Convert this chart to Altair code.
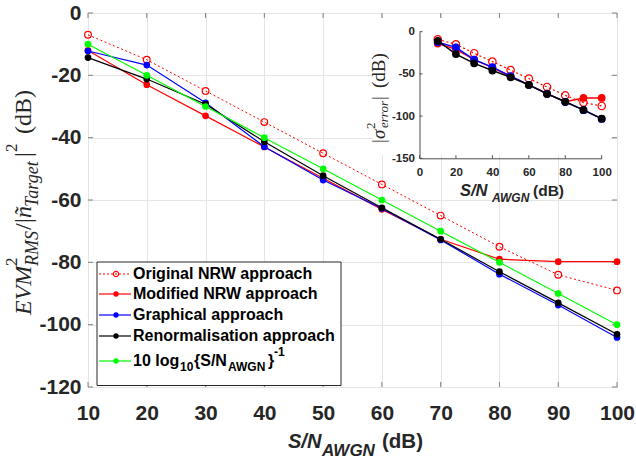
import altair as alt
import pandas as pd

# ---------------- data ----------------
snr = [10, 20, 30, 40, 50, 60, 70, 80, 90, 100]
original_nrw = [-7, -15, -25, -35, -45, -55, -65, -75, -84, -89]
modified_nrw = [-12, -23, -33, -43, -53, -63, -72.6, -79, -79.8, -79.8]
graphical = [-12.2, -16.7, -28.8, -42.9, -53.6, -62.7, -72.8, -83.8, -93.7, -104.1]
renormalisation = [-14.3, -21.2, -29.3, -41.3, -52.2, -62.5, -72.6, -83, -93, -103.1]
theory = [-10, -20, -30, -40, -50, -60, -70, -80, -90, -100]

inset_original = [-9, -15, -25.5, -35.5, -45.5, -55.5, -65.5, -75.5, -84, -88]
inset_modified = [-14, -21, -33, -42.5, -53, -63, -73.5, -83, -78.5, -78.5]
inset_graphical = [-12.5, -18.5, -33, -42, -52.5, -63, -73.5, -83.2, -93, -103.3]
inset_renormalisation = [-11, -26.5, -37.5, -46, -54, -63.1, -73.8, -83, -92.7, -103]

legend_labels = ["Original NRW approach", "Modified NRW approach",
                 "Graphical approach", "Renormalisation approach"]
x_ticks = [10, 20, 30, 40, 50, 60, 70, 80, 90, 100]
y_ticks = [0, -20, -40, -60, -80, -100, -120]
inset_x_ticks = [0, 20, 40, 60, 80, 100]
inset_y_ticks = [0, -50, -100, -150]

# ---------------- styles ----------------
RED, BLUE, BLACK, GREEN = "#ff0000", "#0000ff", "#000000", "#00ff00"
SANS, SERIF = "Liberation Sans", "Liberation Serif"
LBL = "#262626"
FRAME = "#808080"
GRID = "#e4e4e4"
W, H = 529, 374
NEG = "datum.value < 0 ? '-' + abs(datum.value) : '' + datum.value"

DUMMY = alt.Data(values=[{"a": 1}])


def frame(xv, yv):
    return pd.DataFrame({"x": xv, "y": yv})


def txt(s, x, y, size, font=SANS, weight="normal", style="normal", angle=0,
        align="left", baseline="alphabetic", color=LBL):
    kw = dict(text=s, font=font, fontSize=size, fontWeight=weight, fontStyle=style,
              align=align, baseline=baseline, color=color)
    if angle:
        kw["angle"] = angle
    return alt.Chart(DUMMY).mark_text(**kw).encode(x=alt.value(x), y=alt.value(y))


# ---------------- main scales / axes ----------------
xs = alt.Scale(domain=[10, 100], nice=False, zero=False)
ys = alt.Scale(domain=[-120, 0], nice=False, zero=False)
ax_x = alt.Axis(values=x_ticks, grid=True, gridColor=GRID, gridWidth=1, ticks=False,
                domain=False, labelFont=SANS, labelFontWeight="bold", labelFontSize=21,
                labelColor=LBL, labelPadding=15, labelFlush=False, labelOverlap=False,
                labelBound=False, title=None)
ax_y = alt.Axis(values=y_ticks, grid=True, gridColor=GRID, gridWidth=1, ticks=False,
                domain=False, labelFont=SANS, labelFontWeight="bold", labelFontSize=21,
                labelColor=LBL, labelPadding=7, labelFlush=False, labelOverlap=False,
                labelBound=False, labelExpr=NEG, title=None)
X = alt.X("x:Q", scale=xs, axis=ax_x)
Y = alt.Y("y:Q", scale=ys, axis=ax_y)


def series(d, color, Xe, Ye, dash=None, hollow=False, size=45, sw=1.2):
    lk = dict(color=color, strokeWidth=sw)
    if dash:
        lk["strokeDash"] = dash
    out = [alt.Chart(d).mark_line(**lk).encode(x=Xe, y=Ye)]
    if hollow:
        out.append(alt.Chart(d).mark_point(shape="circle", filled=False, color=color,
                                           size=size, strokeWidth=1.2, opacity=1)
                   .encode(x=Xe, y=Ye))
    else:
        out.append(alt.Chart(d).mark_circle(color=color, size=size, opacity=1)
                   .encode(x=Xe, y=Ye))
    return out


main_layers = []
xt = pd.DataFrame({"x": x_ticks})
yt = pd.DataFrame({"y": y_ticks})
# white background of inset
main_layers.append(alt.Chart(DUMMY).mark_rect(color="white").encode(
    x=alt.value(285), x2=alt.value(522), y=alt.value(5), y2=alt.value(142)))
# inward ticks on all four sides
main_layers.append(alt.Chart(xt).mark_rule(color=FRAME).encode(x=X, y=alt.value(H), y2=alt.value(H - 5)))
main_layers.append(alt.Chart(xt).mark_rule(color=FRAME).encode(x=X, y=alt.value(0), y2=alt.value(5)))
main_layers.append(alt.Chart(yt).mark_rule(color=FRAME).encode(y=Y, x=alt.value(0), x2=alt.value(5)))
main_layers.append(alt.Chart(yt).mark_rule(color=FRAME).encode(y=Y, x=alt.value(W), x2=alt.value(W - 5)))

main_layers += series(frame(snr, original_nrw), RED, X, Y, dash=[2, 2.5], hollow=True, sw=1)
main_layers += series(frame(snr, modified_nrw), RED, X, Y)
main_layers += series(frame(snr, graphical), BLUE, X, Y)
main_layers += series(frame(snr, renormalisation), BLACK, X, Y)
main_layers += series(frame(snr, theory), GREEN, X, Y)

# ---------------- legend ----------------
main_layers.append(alt.Chart(DUMMY).mark_rect(fill="white", stroke="#262626", strokeWidth=1).encode(
    x=alt.value(9), x2=alt.value(253), y=alt.value(249), y2=alt.value(372.5)))
rows = [261, 281, 302, 323, 348]
leg_colors = [RED, RED, BLUE, BLACK, GREEN]
for i, (ry, c) in enumerate(zip(rows, leg_colors)):
    rk = dict(color=c, strokeWidth=1.2)
    if i == 0:
        rk["strokeDash"] = [2, 2]
    main_layers.append(alt.Chart(DUMMY).mark_rule(**rk).encode(
        x=alt.value(11), x2=alt.value(43), y=alt.value(ry)))
    if i == 0:
        main_layers.append(alt.Chart(DUMMY).mark_point(shape="circle", filled=False, color=c,
                                                       size=28, strokeWidth=1.2, opacity=1)
                           .encode(x=alt.value(28), y=alt.value(ry)))
    else:
        main_layers.append(alt.Chart(DUMMY).mark_circle(color=c, size=28, opacity=1)
                           .encode(x=alt.value(28), y=alt.value(ry)))
    if i < 4:
        main_layers.append(txt(legend_labels[i], 45, ry, 16, weight="bold", baseline="middle",
                               color="#000000"))
ry = rows[4]
main_layers.append(txt("10 log", 45, ry, 16, weight="bold", baseline="middle", color="#000000"))
main_layers.append(txt("10", 92, ry + 6, 12, weight="bold", baseline="middle", color="#000000"))
main_layers.append(txt("{S/N", 106, ry, 16, weight="bold", baseline="middle", color="#000000"))
main_layers.append(txt("AWGN", 140, ry + 6, 12, weight="bold", baseline="middle", color="#000000"))
main_layers.append(txt("}", 180, ry, 16, weight="bold", baseline="middle", color="#000000"))
main_layers.append(txt("-1", 186, ry - 9, 12, weight="bold", baseline="middle", color="#000000"))

# ---------------- main axis titles ----------------
main_layers.append(txt("S/N", 200, 435, 20, weight="bold", style="italic"))
main_layers.append(txt("AWGN", 234, 443, 17, weight="bold", style="italic"))
main_layers.append(txt("(dB)", 294, 435, 20.5, weight="bold"))

YB = -57
main_layers.append(txt("EVM", YB, 302, 24, font=SERIF, style="italic", angle=270))
main_layers.append(txt("RMS", YB + 7, 253, 18, font=SERIF, style="italic", angle=270))
main_layers.append(txt("2", YB - 14, 253, 17, font=SERIF, angle=270))
main_layers.append(txt("/", YB, 217, 24, font=SERIF, angle=270))
main_layers.append(txt("|", YB, 210, 24, font=SERIF, angle=270))
main_layers.append(txt("ñ", YB, 205, 24, font=SERIF, style="italic", angle=270))
main_layers.append(txt("Target", YB + 7, 194, 18, font=SERIF, style="italic", angle=270))
main_layers.append(txt("|", YB, 144, 24, font=SERIF, angle=270))
main_layers.append(txt("2", YB - 14, 139, 17, font=SERIF, angle=270))
main_layers.append(txt("(dB)", YB, 121, 24, font=SERIF, angle=270))

# inset axis titles (drawn in main pixel space)
main_layers.append(txt("S/N", 372, 183, 16.5, weight="bold", style="italic"))
main_layers.append(txt("AWGN", 404, 189, 12, weight="bold", style="italic"))
main_layers.append(txt("(dB)", 445, 183, 15.5, weight="bold"))

IB = 297
main_layers.append(txt("|", IB, 130, 19, font=SERIF, angle=270))
main_layers.append(txt("σ", IB, 126, 19, font=SERIF, style="italic", angle=270))
main_layers.append(txt("2", IB - 10, 116, 13, font=SERIF, angle=270))
main_layers.append(txt("error", IB + 3, 115, 13, font=SERIF, style="italic", angle=270))
main_layers.append(txt("|", IB, 87, 19, font=SERIF, angle=270))
main_layers.append(txt("(dB)", IB, 75, 19, font=SERIF, angle=270))

main = alt.layer(*main_layers)

# ---------------- inset ----------------
xi = alt.Scale(domain=[0, 100], range=[331.5, 513.7], nice=False, zero=False)
yi = alt.Scale(domain=[-150, 0], range=[145.3, 18.7], nice=False, zero=False)
IAX = "#4d4d4d"
ax_xi = alt.Axis(values=inset_x_ticks, orient="bottom", offset=-228.7, grid=False, ticks=False,
                 domain=True, domainColor=IAX, domainWidth=1, labelFont=SANS,
                 labelFontWeight="bold", labelFontSize=11.5, labelColor=LBL, labelPadding=8,
                 labelFlush=False, labelOverlap=False, labelBound=False, zindex=1, title=None)
ax_yi = alt.Axis(values=inset_y_ticks, orient="left", offset=-331.5, grid=False, ticks=False,
                 domain=True, domainColor=IAX, domainWidth=1, labelFont=SANS,
                 labelFontWeight="bold", labelFontSize=11.5, labelColor=LBL, labelPadding=5,
                 labelFlush=False, labelOverlap=False, labelBound=False, labelExpr=NEG,
                 zindex=1, title=None)
XI = alt.X("x:Q", scale=xi, axis=ax_xi)
YI = alt.Y("y:Q", scale=yi, axis=ax_yi)

inset_layers = []
ixt = pd.DataFrame({"x": inset_x_ticks})
iyt = pd.DataFrame({"y": inset_y_ticks})
inset_layers.append(alt.Chart(ixt).mark_rule(color=IAX).encode(x=XI, y=alt.value(145.3), y2=alt.value(142.3)))
inset_layers.append(alt.Chart(iyt).mark_rule(color=IAX).encode(y=YI, x=alt.value(331.5), x2=alt.value(334.5)))
inset_layers += series(frame(snr, inset_original), RED, XI, YI, dash=[2, 2.5], hollow=True, size=55, sw=1.2)
inset_layers += series(frame(snr, inset_modified), RED, XI, YI, size=60, sw=1.4)
inset_layers += series(frame(snr, inset_graphical), BLUE, XI, YI, size=60, sw=1.4)
inset_layers += series(frame(snr, inset_renormalisation), BLACK, XI, YI, size=60, sw=1.4)
inset = alt.layer(*inset_layers)

chart = (
    alt.layer(main, inset)
    .resolve_scale(x="independent", y="independent")
    .properties(width=W, height=H,
                padding={"left": 88, "top": 13, "right": 19, "bottom": 73},
                autosize=alt.AutoSizeParams(type="none"),
                background="white")
    .configure_view(stroke=FRAME, strokeWidth=1)
)

chart.save("out.html", embed_options={"renderer": "svg", "actions": False})
